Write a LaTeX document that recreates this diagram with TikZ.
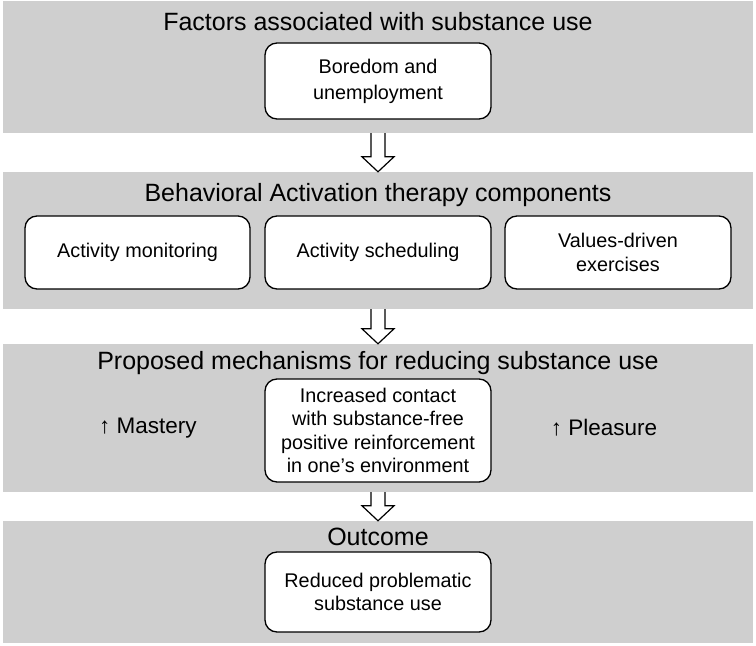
\documentclass[tikz,border=0pt]{standalone}
\usepackage{fontspec}
\setmainfont{Liberation Sans}
\usetikzlibrary{calc}
\definecolor{bandgray}{RGB}{207,207,207}
\tikzset{
  band/.style={rectangle, fill=bandgray, draw=none, minimum width=750pt, inner sep=0pt},
  title/.style={font=\fontsize{25}{29}\selectfont, inner sep=0pt},
  box/.style={rectangle, draw=black, line width=1.3pt, fill=white, rounded corners=12pt,
    minimum width=226pt, align=center, inner sep=0pt, font=\fontsize{19.8}{23.5}\selectfont},
  side/.style={font=\fontsize{22.5}{26}\selectfont, inner sep=0pt}
}
\newcommand\blockarrow[2]{%
  \fill[white] ($(#1.south)+(-7,0)$) -- ($(#2.north)+(-7,15)$) -- ($(#2.north)+(-16,15)$) -- (#2.north)
    -- ($(#2.north)+(16,15)$) -- ($(#2.north)+(7,15)$) -- ($(#1.south)+(7,0)$) -- cycle;
  \draw[line width=1.2pt, line join=miter] ($(#1.south)+(-7,0)$) -- ($(#2.north)+(-7,15)$) -- ($(#2.north)+(-16,15)$) -- (#2.north)
    -- ($(#2.north)+(16,15)$) -- ($(#2.north)+(7,15)$) -- ($(#1.south)+(7,0)$);
}
\begin{document}
\begin{tikzpicture}[x=1pt,y=1pt]
\useasboundingbox (0,0) rectangle (756,646);
\fill[white] (0,0) rectangle (756,646);
% bands
\node[band, minimum height=132pt] (b1) at (378,579) {};
\node[band, minimum height=137pt] (b2) at (378,405.5) {};
\node[band, minimum height=148pt] (b3) at (378,228) {};
\node[band, minimum height=122pt] (b4) at (378,64) {};
% titles
\node[title] (t1) at (378,624) {Factors associated with substance use};
\node[title] (t2) at (378,451) {Behavioral Activation therapy components};
\node[title] (t3) at (378,283) {Proposed mechanisms for reducing substance use};
\node[title] (t4) at (378,109) {Outcome};
% boxes
\node[box, minimum height=76pt] (bored) at (378,565) {Boredom and\\[2.5pt]unemployment};
\node[box, minimum width=225pt, minimum height=73pt] (mon) at (137.5,393.5) {Activity monitoring};
\node[box, minimum height=73pt] (sched) at (378,393.5) {Activity scheduling};
\node[box, minimum height=73pt] (vals) at (618,393.5) {Values-driven\\[0.5pt]exercises};
\node[box, minimum height=103pt] (mech) at (378,215.5) {Increased contact\\with substance-free\\positive reinforcement\\in one’s environment};
\node[box, minimum height=80pt] (out) at (378,54) {Reduced problematic\\substance use};
\node[side] (mast) at (148,218) {↑ Mastery};
\node[side] (pleas) at (604,218) {↑ Pleasure};
% arrows
\blockarrow{b1}{b2}
\blockarrow{b2}{b3}
\blockarrow{b3}{b4}
\end{tikzpicture}
\end{document}
